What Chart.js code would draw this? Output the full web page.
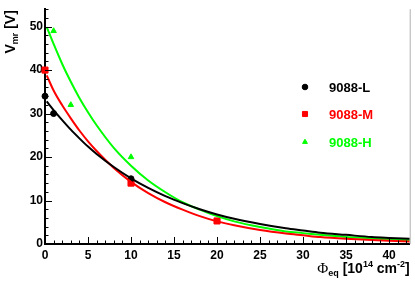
<!DOCTYPE html>
<html>
<head>
<meta charset="utf-8">
<script src="https://cdn.jsdelivr.net/npm/chart.js@4.4.0/dist/chart.umd.min.js"></script>
<style>
  html, body { margin: 0; padding: 0; background: #fff; }
  #wrap { width: 415px; height: 281px; position: relative; }
</style>
</head>
<body>
<div id="wrap"><canvas id="myChart" width="415" height="281"></canvas></div>
<script>
// measured points
const phiL = [0, 1, 10];
const vL = [34, 30, 15];
const phiM = [0, 10, 20];
const vM = [40, 14, 5.3];
const phiH = [1, 3, 10];
const vH = [49, 32, 20];

// fitted curves
const fitPhi = [0.2, 1, 2, 3, 4, 5, 6, 8, 10, 12, 14, 16, 18, 20, 22, 25, 28, 30, 32, 35, 38, 40, 42.4];
const fitL = [32.8, 30.8, 28.5, 26.3, 24.3, 22.4, 20.7, 17.7, 15.1, 12.9, 11.0, 9.4, 8.0, 6.8, 5.8, 4.6, 3.6, 3.1, 2.6, 2.1, 1.6, 1.4, 1.2];
const fitM = [38.8, 35.3, 31.9, 28.9, 26.1, 23.6, 21.4, 17.5, 14.3, 11.7, 9.6, 7.9, 6.4, 5.2, 4.3, 3.2, 2.4, 2.0, 1.6, 1.2, 0.9, 0.75, 0.6];
const fitH = [49.9, 46.0, 41.4, 37.3, 33.6, 30.3, 27.3, 22.1, 18.0, 14.6, 11.9, 9.6, 7.9, 6.4, 5.2, 3.9, 2.9, 2.5, 2.1, 1.6, 1.3, 1.05, 0.9];

const seriesNames = ['9088-L', '9088-M', '9088-H'];
const colors = ['#000000', '#ff0000', '#00ff00'];
const styles = ['circle', 'rect', 'triangle'];
const radii = [3, 4.3, 3.2];

const FONT = '"Liberation Sans", Arial, Helvetica, sans-serif';

function toXY(xs, ys) {
    return xs.map((x, i) => ({ x: x, y: ys[i] }));
}

// draw a list of text pieces one after another (for sub/superscripts)
function drawRich(ctx, parts, x, y, align) {
    let total = 0;
    parts.forEach(p => {
        ctx.font = p.font;
        p.w = ctx.measureText(p.t).width;
        total += p.w;
    });
    let cx = align === 'right' ? x - total : x;
    parts.forEach(p => {
        ctx.font = p.font;
        ctx.fillText(p.t, cx, y + (p.dy || 0));
        cx += p.w;
    });
}

const decorations = {
    id: 'decorations',
    afterDraw(chart) {
        const ctx = chart.ctx;
        const area = chart.chartArea;
        const xs = chart.scales.x;
        const ys = chart.scales.y;
        ctx.save();

        // right frame line
        ctx.strokeStyle = '#b0b0b0';
        ctx.lineWidth = 1;
        ctx.beginPath();
        ctx.moveTo(area.right + 0.5, area.top);
        ctx.lineTo(area.right + 0.5, area.bottom);
        ctx.stroke();

        // inward ticks
        ctx.strokeStyle = '#000';
        ctx.lineWidth = 1;
        ctx.beginPath();
        for (let v = 0; v <= 54; v += 2) {
            const py = Math.round(ys.getPixelForValue(v)) + 0.5;
            const len = v % 10 === 0 ? 7 : 3.5;
            ctx.moveTo(area.left, py);
            ctx.lineTo(area.left + len, py);
        }
        for (let v = 0; v <= 42; v += 1) {
            const px = Math.round(xs.getPixelForValue(v)) + 0.5;
            const len = v % 5 === 0 ? 7 : 3.5;
            ctx.moveTo(px, area.bottom);
            ctx.lineTo(px, area.bottom - len);
        }
        ctx.stroke();

        // axis titles
        ctx.fillStyle = '#000';
        ctx.textBaseline = 'alphabetic';
        drawRich(ctx, [
            { t: '\u03A6', font: '15px "Liberation Serif", serif' },
            { t: 'eq', font: 'bold 9px ' + FONT, dy: 3 },
            { t: ' [10', font: 'bold 14px ' + FONT },
            { t: '14', font: 'bold 9px ' + FONT, dy: -6 },
            { t: ' cm', font: 'bold 14px ' + FONT },
            { t: '-2', font: 'bold 9px ' + FONT, dy: -6 },
            { t: ']', font: 'bold 14px ' + FONT }
        ], area.right, 273, 'right');

        ctx.save();
        ctx.translate(15, area.top + 1);
        ctx.rotate(-Math.PI / 2);
        drawRich(ctx, [
            { t: 'V', font: 'bold 14px ' + FONT },
            { t: 'mr', font: 'bold 9px ' + FONT, dy: 3 },
            { t: ' [V]', font: 'bold 14px ' + FONT }
        ], 0, 0, 'right');
        ctx.restore();

        // legend
        const rowY = [87, 114, 142];
        seriesNames.forEach((name, i) => {
            ctx.fillStyle = colors[i];
            ctx.strokeStyle = colors[i];
            Chart.helpers.drawPoint(ctx, {
                pointStyle: styles[i],
                radius: i === 1 ? 3.6 : 2.8,
                rotation: 0,
                borderWidth: 1
            }, 305, rowY[i]);
            ctx.fillStyle = colors[i];
            ctx.font = 'bold 13px ' + FONT;
            ctx.textBaseline = 'middle';
            ctx.fillText(name, 329, rowY[i] + 1);
        });
        ctx.restore();
    }
};

const pointSets = [toXY(phiL, vL), toXY(phiM, vM), toXY(phiH, vH)];
const fitSets = [toXY(fitPhi, fitL), toXY(fitPhi, fitM), toXY(fitPhi, fitH)];

const datasets = [];
fitSets.forEach((d, i) => {
    datasets.push({
        label: seriesNames[i] + ' fit',
        data: d,
        showLine: true,
        borderColor: colors[i],
        borderWidth: 2,
        pointRadius: 0,
        cubicInterpolationMode: 'monotone',
        fill: false
    });
});
pointSets.forEach((d, i) => {
    datasets.push({
        label: seriesNames[i],
        data: d,
        showLine: false,
        pointStyle: styles[i],
        pointRadius: radii[i],
        backgroundColor: colors[i],
        borderColor: colors[i],
        borderWidth: 1
    });
});

new Chart(document.getElementById('myChart'), {
    type: 'scatter',
    data: { datasets: datasets },
    options: {
        responsive: false,
        animation: false,
        clip: false,
        layout: { padding: { top: 3, right: 3, left: 0, bottom: 0 } },
        plugins: {
            legend: { display: false },
            tooltip: { enabled: false }
        },
        scales: {
            x: {
                type: 'linear',
                min: 0,
                max: 42.4,
                afterFit: function(scale) { scale.height = 37; },
                grid: { display: false, drawTicks: false },
                border: { display: true, color: '#000', width: 2 },
                ticks: {
                    stepSize: 5,
                    includeBounds: false,
                    autoSkip: false,
                    maxRotation: 0,
                    padding: 4,
                    color: '#000',
                    font: { family: FONT, size: 12, weight: 'bold' }
                }
            },
            y: {
                type: 'linear',
                min: 0,
                max: 54,
                afterFit: function(scale) { scale.width = 45; },
                grid: { display: false, drawTicks: false },
                border: { display: true, color: '#000', width: 2 },
                ticks: {
                    stepSize: 10,
                    includeBounds: false,
                    autoSkip: false,
                    padding: 2,
                    color: '#000',
                    font: { family: FONT, size: 12, weight: 'bold' }
                }
            }
        }
    },
    plugins: [decorations]
});
</script>
</body>
</html>
